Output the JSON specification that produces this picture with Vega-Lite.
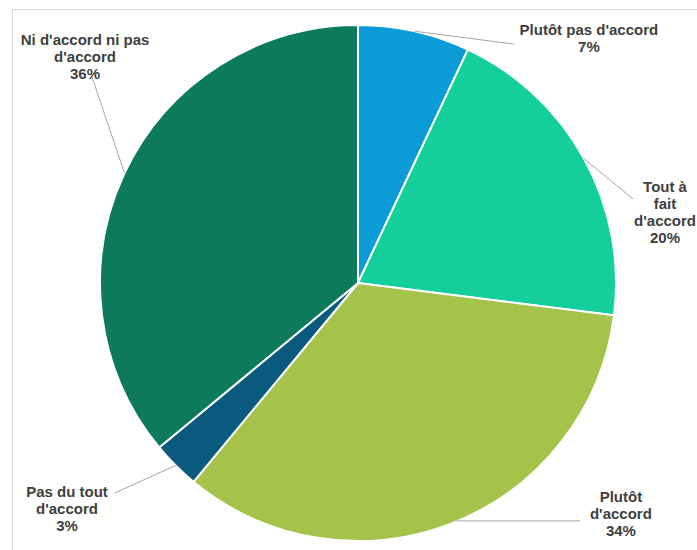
{
  "$schema": "https://vega.github.io/schema/vega-lite/v6.json",
  "width": 692,
  "height": 548,
  "autosize": "none",
  "padding": {"left": 12, "top": 9, "right": 0, "bottom": 0},
  "background": "white",
  "config": {"view": {"stroke": "#d9d9d9", "strokeWidth": 1}},
  "datasets": {
    "slices": [
      {"cat": "Plutôt pas d'accord", "value": 7, "order": 1},
      {"cat": "Tout à fait d'accord", "value": 20, "order": 2},
      {"cat": "Plutôt d'accord", "value": 34, "order": 3},
      {"cat": "Pas du tout d'accord", "value": 3, "order": 4},
      {"cat": "Ni d'accord ni pas d'accord", "value": 36, "order": 5}
    ],
    "leaders": [
      {"g": 1, "x": 0.218, "y": 0.976}, {"g": 1, "x": 0.605, "y": 0.926},
      {"g": 2, "x": 0.876, "y": 0.482}, {"g": 2, "x": 1.066, "y": 0.326},
      {"g": 3, "x": 0.38, "y": -0.922}, {"g": 3, "x": 0.86, "y": -0.922},
      {"g": 4, "x": -0.707, "y": -0.707}, {"g": 4, "x": -0.942, "y": -0.814},
      {"g": 5, "x": -0.905, "y": 0.426}, {"g": 5, "x": -1.031, "y": 0.798}
    ],
    "labels": [
      {"label": ["Plutôt pas d'accord", "7%"], "x": 0.895, "y": 0.981},
      {"label": ["Tout à", "fait", "d'accord", "20%"], "x": 1.19, "y": 0.372},
      {"label": ["Plutôt", "d'accord", "34%"], "x": 1.019, "y": -0.829},
      {"label": ["Pas du tout", "d'accord", "3%"], "x": -1.128, "y": -0.81},
      {"label": ["Ni d'accord ni pas", "d'accord", "36%"], "x": -1.058, "y": 0.942}
    ]
  },
  "layer": [
    {
      "data": {"name": "slices"},
      "mark": {"type": "arc", "outerRadius": 258, "stroke": "white", "strokeWidth": 2},
      "encoding": {
        "theta": {"field": "value", "type": "quantitative", "stack": true},
        "order": {"field": "order", "type": "quantitative"},
        "color": {
          "field": "cat", "type": "nominal", "legend": null,
          "scale": {
            "domain": ["Plutôt pas d'accord", "Tout à fait d'accord", "Plutôt d'accord", "Pas du tout d'accord", "Ni d'accord ni pas d'accord"],
            "range": ["#0B9BD7", "#14CF9C", "#A5C24A", "#0A5A7D", "#0D7A5B"]
          }
        }
      }
    },
    {
      "data": {"name": "leaders"},
      "mark": {"type": "line", "color": "#a6a6a6", "strokeWidth": 1},
      "encoding": {
        "x": {"field": "x", "type": "quantitative", "scale": {"domain": [-1.3411, 1.3411], "nice": false, "zero": false}, "axis": null},
        "y": {"field": "y", "type": "quantitative", "scale": {"domain": [-1.062, 1.062], "nice": false, "zero": false}, "axis": null},
        "detail": {"field": "g", "type": "nominal"}
      }
    },
    {
      "data": {"name": "labels"},
      "mark": {"type": "text", "font": "Liberation Sans", "fontSize": 15, "fontWeight": "bold", "color": "#404040", "align": "center", "baseline": "middle", "lineHeight": 17},
      "encoding": {
        "x": {"field": "x", "type": "quantitative", "scale": {"domain": [-1.3411, 1.3411], "nice": false, "zero": false}, "axis": null},
        "y": {"field": "y", "type": "quantitative", "scale": {"domain": [-1.062, 1.062], "nice": false, "zero": false}, "axis": null},
        "text": {"field": "label"}
      }
    }
  ]
}
